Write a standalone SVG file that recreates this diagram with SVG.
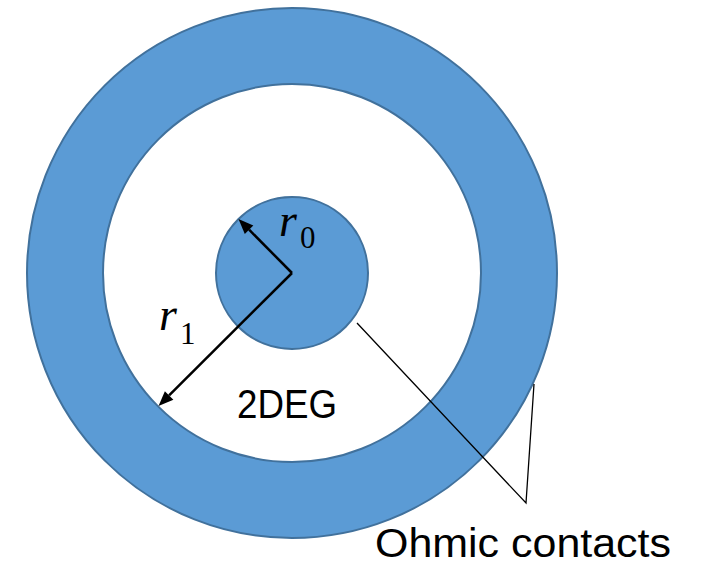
<svg xmlns="http://www.w3.org/2000/svg" width="702" height="563" viewBox="0 0 702 563">
<style>
.blue{fill:#5B9BD5;stroke:#41719C;stroke-width:2}
.hole{fill:#FFFFFF;stroke:#41719C;stroke-width:2}
.arr{stroke:#000;stroke-width:2.5;fill:none}
.head{fill:#000;stroke:none}
.lead{stroke:#000;stroke-width:1.3;fill:none}
.lbl{font-family:"Liberation Sans",Arial,sans-serif;font-size:40px;fill:#000}
.math{font-family:"Liberation Serif","Times New Roman",serif;fill:#000}
</style>
<rect width="702" height="563" fill="#FFFFFF"/>
<g id="outer-contact">
<circle class="blue" cx="292" cy="273" r="265"/>
<circle class="hole" cx="292" cy="273" r="189"/>
</g>
<g id="inner-contact">
<circle class="blue" cx="292" cy="273" r="76"/>
</g>
<g id="connectors">
<line class="arr" x1="292" y1="273" x2="249.1" y2="229.7"/>
<polygon class="head" points="238.5,219 253.3,225.4 244.8,233.9"/>
<line class="arr" x1="292" y1="273" x2="169.1" y2="395.4"/>
<polygon class="head" points="158.5,406 173.4,399.7 164.9,391.2"/>
<polyline class="lead" points="357,323 526,503 534,384"/>
</g>
<g id="labels">
<text class="math" x="279" y="236"><tspan font-style="italic" font-size="46">r</tspan><tspan font-size="31" x="300" y="248">0</tspan></text>
<text class="math" x="159" y="330"><tspan font-style="italic" font-size="46">r</tspan><tspan font-size="31" x="180" y="344">1</tspan></text>
<text class="lbl" x="237" y="418" textLength="100" lengthAdjust="spacingAndGlyphs">2DEG</text>
<text class="lbl" x="375" y="556.5" textLength="296" lengthAdjust="spacingAndGlyphs">Ohmic contacts</text>
</g>
</svg>
